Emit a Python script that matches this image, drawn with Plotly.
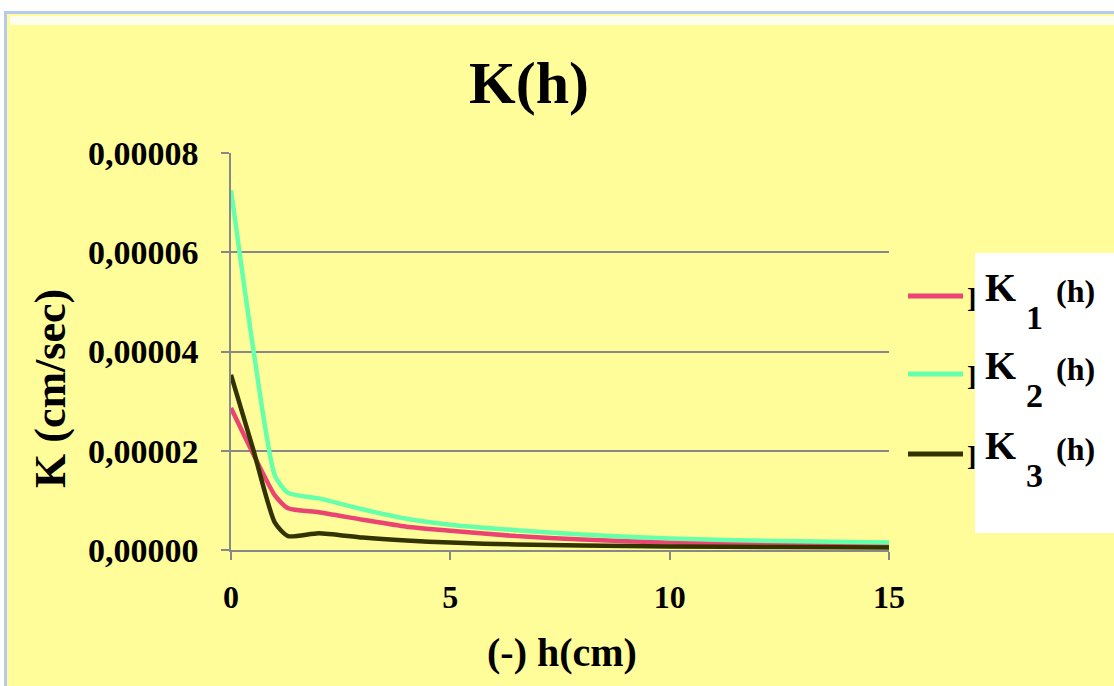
import plotly.graph_objects as go

# ---- data ----
h = [0, 0.5, 1, 1.3, 2, 3, 4, 5, 6.5, 8, 10, 12.5, 15]
K1 = [2.86e-5, 1.95e-5, 1.10e-5, 0.84e-5, 0.76e-5, 0.61e-5, 0.47e-5, 0.39e-5, 0.28e-5, 0.21e-5, 0.15e-5, 0.11e-5, 0.09e-5]
K2 = [7.25e-5, 4.10e-5, 1.50e-5, 1.15e-5, 1.04e-5, 0.82e-5, 0.63e-5, 0.51e-5, 0.40e-5, 0.31e-5, 0.23e-5, 0.18e-5, 0.15e-5]
K3 = [3.53e-5, 2.05e-5, 0.55e-5, 0.28e-5, 0.34e-5, 0.25e-5, 0.19e-5, 0.15e-5, 0.11e-5, 0.09e-5, 0.07e-5, 0.06e-5, 0.05e-5]
series_names = ["K1", "K2", "K3"]
subscripts = ["1", "2", "3"]
colors = ["#EA4472", "#66FFAA", "#333300"]
x_ticks = [0, 5, 10, 15]
y_ticks = [0, 0.00002, 0.00004, 0.00006, 0.00008]

W, H = 1114, 686
L, R, T, B = 231, 889, 153, 550


def px(x):
    return (x - L) / (R - L)


def py(y):
    return (B - y) / (B - T)


SERIF = "Liberation Serif, Times New Roman, serif"
YELLOW = "#FFFD9A"

fig = go.Figure()
for name, ys, c in zip(series_names, [K1, K2, K3], colors):
    fig.add_trace(go.Scatter(x=h, y=ys, mode="lines", name=name,
                             line=dict(color=c, width=4.5, shape="spline", smoothing=0.6),
                             showlegend=False))

shapes = [
    # yellow chart background with blue frame
    dict(type="rect", xref="paper", yref="paper", layer="below",
         x0=px(4), x1=px(1120), y0=py(700), y1=py(11),
         fillcolor="#B6C9F2", line=dict(width=0)),
    dict(type="rect", xref="paper", yref="paper", layer="below",
         x0=px(7), x1=px(1120), y0=py(700), y1=py(14),
         fillcolor=YELLOW, line=dict(width=0)),
    dict(type="rect", xref="paper", yref="paper", layer="below",
         x0=px(10), x1=px(1120), y0=py(25), y1=py(16),
         fillcolor="#FFFFEE", line=dict(width=0)),
    # legend white box
    dict(type="rect", xref="paper", yref="paper", layer="below",
         x0=px(975), x1=px(1114), y0=py(533), y1=py(253),
         fillcolor="white", line=dict(width=0)),
]


def ann(text, x, y, size, angle=0):
    return dict(text=text, x=px(x), y=py(y), xref="paper", yref="paper",
                xanchor="center", yanchor="middle", textangle=angle,
                showarrow=False,
                font=dict(family=SERIF, size=size, color="black", weight="bold"))


annotations = [
    ann("K(h)", 529, 83, 60),
    ann("(-) h(cm)", 562, 652, 40),
    ann("K (cm/sec)", 50, 388, 44, -90),
]

leg_y = [296, 374, 454]
for i in range(3):
    yy = leg_y[i]
    shapes.append(dict(type="line", xref="paper", yref="paper",
                       x0=px(908), x1=px(963), y0=py(yy), y1=py(yy),
                       line=dict(color=colors[i], width=5)))
    annotations += [
        ann("]", 971, yy + 1, 28),
        ann("K", 1000, yy - 9, 40),
        ann(subscripts[i], 1034, yy + 21, 34),
        ann("(h)", 1075, yy - 5, 32),
    ]

fig.update_layout(
    width=W, height=H,
    margin=dict(l=L, r=W - R, t=T, b=H - B, pad=0),
    paper_bgcolor="white", plot_bgcolor="white",
    separators=",.",
    shapes=shapes, annotations=annotations,
    showlegend=False,
)
fig.update_xaxes(range=[0, 15], tickvals=x_ticks, showgrid=False, zeroline=False,
                 showline=True, linecolor="#888888", linewidth=1.5,
                 ticks="outside", ticklen=8, tickcolor="#888888", tickwidth=1.5,
                 ticklabelstandoff=10,
                 tickfont=dict(family=SERIF, size=32, color="black", weight="bold"))
fig.update_yaxes(range=[0, 0.00008], tickvals=y_ticks, tickformat=".5f",
                 showgrid=True, gridcolor="#888888", gridwidth=1.5, zeroline=False,
                 showline=True, linecolor="#888888", linewidth=1.5,
                 ticks="outside", ticklen=8, tickcolor="#888888", tickwidth=1.5,
                 ticklabelstandoff=16,
                 tickfont=dict(family=SERIF, size=34, color="black", weight="bold"))

fig.write_html("out.html")
